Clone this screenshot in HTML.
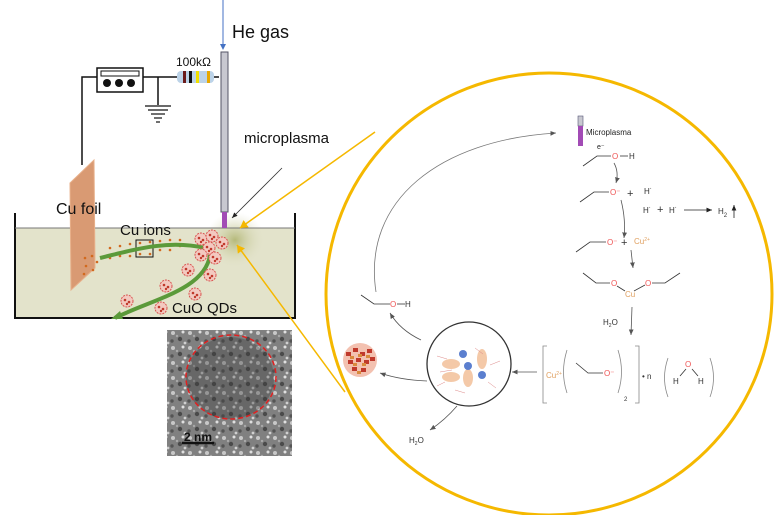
<!DOCTYPE html>
<html><head><meta charset="utf-8"><style>
html,body{margin:0;padding:0;background:#fff;}
svg{display:block;font-family:"Liberation Sans",sans-serif;}
</style></head><body>
<svg width="774" height="515" viewBox="0 0 774 515" xmlns="http://www.w3.org/2000/svg">
<defs>
<marker id="ar" markerWidth="8" markerHeight="8" refX="7" refY="4" orient="auto"><path d="M0,1 L7,4 L0,7 Z" fill="#555"/></marker>
<marker id="ab" markerWidth="8" markerHeight="8" refX="7" refY="4" orient="auto"><path d="M0,1 L7,4 L0,7 Z" fill="#222"/></marker>
<marker id="ay" markerWidth="6" markerHeight="6" refX="5" refY="3" orient="auto"><path d="M0,0 L5,3 L0,6 Z" fill="#f5b800"/></marker>
<radialGradient id="glow" cx="0.5" cy="0.5" r="0.5"><stop offset="0" stop-color="#b5b97a"/><stop offset="1" stop-color="#e3e3cb" stop-opacity="0"/></radialGradient>
<pattern id="noise" width="17" height="15" patternUnits="userSpaceOnUse"><rect width="17" height="15" fill="#808080"/><circle cx="3" cy="3" r="2" fill="#c8c8c8"/><circle cx="10" cy="9" r="2.2" fill="#4a4a4a"/><circle cx="13" cy="2" r="1.5" fill="#e0e0e0"/><circle cx="2" cy="11" r="1.7" fill="#555"/><circle cx="7" cy="6" r="1.2" fill="#a8a8a8"/><circle cx="15" cy="13" r="1.4" fill="#d0d0d0"/></pattern>
<g id="qd"><circle r="6" fill="#f3c9c0"/><circle r="6" fill="none" stroke="#d9534f" stroke-width="1" stroke-dasharray="2 1"/><circle cx="-2" cy="-1" r="1.3" fill="#c0392b"/><circle cx="2" cy="1" r="1.3" fill="#c0392b"/><circle cx="0" cy="3" r="1.2" fill="#c0392b"/></g>
</defs>

<line x1="223" y1="0" x2="223" y2="46" stroke="#4472c4" stroke-width="1"/>
<path d="M220,44 L223,50 L226,44 Z" fill="#4472c4"/>
<text x="232" y="38" font-size="18" fill="#111">He gas</text>

<polyline points="82,165 82,77 97,77" fill="none" stroke="#111" stroke-width="1.5"/>
<rect x="97" y="68" width="46" height="24" fill="#fff" stroke="#111" stroke-width="1.5"/>
<rect x="101" y="71" width="38" height="5" fill="#fff" stroke="#111" stroke-width="1"/>
<circle cx="107" cy="83" r="4" fill="#111"/><circle cx="119" cy="83" r="4" fill="#111"/><circle cx="131" cy="83" r="4" fill="#111"/>
<line x1="143" y1="77" x2="177" y2="77" stroke="#111" stroke-width="1.5"/>
<line x1="158" y1="77" x2="158" y2="105" stroke="#111" stroke-width="1.5"/>
<line x1="145" y1="106" x2="171" y2="106" stroke="#111" stroke-width="1.2"/>
<line x1="148" y1="110" x2="168" y2="110" stroke="#111" stroke-width="1.2"/>
<line x1="151" y1="114" x2="165" y2="114" stroke="#111" stroke-width="1.2"/>
<line x1="154" y1="118" x2="162" y2="118" stroke="#111" stroke-width="1.2"/>
<line x1="156" y1="122" x2="160" y2="122" stroke="#111" stroke-width="1.2"/>
<rect x="177" y="71" width="37" height="12" rx="4" fill="#bcd3e8"/>
<rect x="183" y="71" width="3" height="12" fill="#6b1b1b"/><rect x="189" y="71" width="3" height="12" fill="#111"/><rect x="196" y="71" width="3" height="12" fill="#f0e000"/><rect x="207" y="71" width="3" height="12" fill="#e8a800"/>
<line x1="214" y1="77" x2="219" y2="77" stroke="#111" stroke-width="1.5"/>
<text x="176" y="66" font-size="12" fill="#111">100kΩ</text>

<rect x="15" y="228" width="280" height="90" fill="#e3e3cb"/>
<ellipse cx="235" cy="240" rx="30" ry="28" fill="url(#glow)"/>
<polyline points="15,213 15,318 295,318 295,213" fill="none" stroke="#111" stroke-width="2"/>
<line x1="15" y1="228" x2="295" y2="228" stroke="#777" stroke-width="1"/>

<rect x="221" y="52" width="7" height="160" fill="#c8c8d0" stroke="#556" stroke-width="1"/>
<rect x="222" y="212" width="5" height="16" fill="#a24bb5"/>

<polygon points="70,183 94,160 95,268 71,290" fill="#d99a73" stroke="#e8b08a" stroke-width="1"/>
<text x="56" y="214" font-size="16" fill="#111">Cu foil</text>

<g fill="#d2691e">
<circle cx="85" cy="258" r="1.3"/><circle cx="92" cy="256" r="1.3"/><circle cx="97" cy="262" r="1.3"/><circle cx="86" cy="266" r="1.3"/><circle cx="93" cy="270" r="1.3"/><circle cx="84" cy="274" r="1.3"/>
<circle cx="110" cy="248" r="1.3"/><circle cx="120" cy="246" r="1.3"/><circle cx="130" cy="244" r="1.3"/><circle cx="140" cy="243" r="1.3"/><circle cx="150" cy="242" r="1.3"/><circle cx="160" cy="241" r="1.3"/><circle cx="170" cy="240" r="1.3"/><circle cx="180" cy="240" r="1.3"/>
<circle cx="110" cy="258" r="1.3"/><circle cx="120" cy="256" r="1.3"/><circle cx="130" cy="256" r="1.3"/><circle cx="140" cy="254" r="1.3"/><circle cx="150" cy="254" r="1.3"/><circle cx="160" cy="250" r="1.3"/><circle cx="170" cy="250" r="1.3"/><circle cx="180" cy="246" r="1.3"/>
</g>
<rect x="136" y="240" width="17" height="17" fill="none" stroke="#111" stroke-width="1"/>
<text x="120" y="235" font-size="15" fill="#111">Cu ions</text>
<path d="M100,258 C140,248 170,240 205,248" fill="none" stroke="#5b9a3a" stroke-width="4"/>
<path d="M210,255 C205,290 150,300 115,318" fill="none" stroke="#5b9a3a" stroke-width="4"/>
<path d="M120,311 L111,319 L123,319 Z" fill="#5b9a3a"/>

<use href="#qd" x="201" y="239"/><use href="#qd" x="212" y="236"/><use href="#qd" x="222" y="243"/><use href="#qd" x="209" y="248"/><use href="#qd" x="201" y="255"/><use href="#qd" x="215" y="258"/><use href="#qd" x="188" y="270"/><use href="#qd" x="210" y="275"/><use href="#qd" x="166" y="286"/><use href="#qd" x="195" y="294"/><use href="#qd" x="127" y="301"/><use href="#qd" x="161" y="308"/>
<text x="172" y="313" font-size="15" fill="#111">CuO QDs</text>

<text x="244" y="143" font-size="15" fill="#111">microplasma</text>
<line x1="282" y1="168" x2="232" y2="218" stroke="#333" stroke-width="0.8" marker-end="url(#ab)"/>

<rect x="167" y="330" width="125" height="126" fill="url(#noise)"/>
<ellipse cx="230" cy="378" rx="44" ry="41" fill="#3a3a3a" opacity="0.35"/>
<ellipse cx="231" cy="377" rx="45" ry="42" fill="none" stroke="#e02020" stroke-width="1.5" stroke-dasharray="5 3"/>
<text x="184" y="441" font-size="12" font-weight="bold" fill="#111">2 nm</text>
<line x1="182" y1="443" x2="214" y2="443" stroke="#111" stroke-width="2.5"/>

<line x1="375" y1="132" x2="240" y2="228" stroke="#f5b800" stroke-width="1.5" marker-end="url(#ay)"/>
<line x1="345" y1="392" x2="237" y2="245" stroke="#f5b800" stroke-width="1.5" marker-end="url(#ay)"/>
<ellipse cx="549" cy="294" rx="223" ry="221" fill="none" stroke="#f5b800" stroke-width="3"/>

<path d="M376,292 C362,200 440,140 556,133" fill="none" stroke="#777" stroke-width="0.8" marker-end="url(#ar)"/>
<rect x="578" y="116" width="5" height="10" fill="#c8c8d0" stroke="#557" stroke-width="0.6"/>
<rect x="578" y="126" width="5" height="20" fill="#a24bb5"/>
<text x="586" y="135" font-size="8" fill="#222">Microplasma</text>
<text x="597" y="149" font-size="7" fill="#222">e⁻</text>
<g font-size="8" fill="#333" stroke-width="0.8">
<polyline points="583,166 597,156 611,156" fill="none" stroke="#333"/><text x="612" y="159" fill="#e55">O</text><line x1="620" y1="156" x2="628" y2="156" stroke="#333"/><text x="629" y="159">H</text>
<path d="M614,163 Q619,172 616,183" fill="none" stroke="#555" marker-end="url(#ar)"/>
<polyline points="580,202 594,192 609,192" fill="none" stroke="#333"/><text x="610" y="195" fill="#e55">O⁻</text>
<text x="627" y="197" font-size="11">+</text><text x="644" y="194">H˙</text>
<text x="643" y="213">H˙</text><text x="657" y="213" font-size="11">+</text><text x="669" y="213">H˙</text>
<line x1="684" y1="210" x2="712" y2="210" stroke="#222" marker-end="url(#ab)"/>
<text x="718" y="214">H<tspan font-size="6" dy="3">2</tspan></text>
<line x1="734" y1="218" x2="734" y2="205" stroke="#222" marker-end="url(#ab)"/>
<path d="M621,200 Q626,220 624,238" fill="none" stroke="#555" marker-end="url(#ar)"/>
<polyline points="576,252 590,242 606,242" fill="none" stroke="#333"/><text x="607" y="245" fill="#e55">O⁻</text>
<text x="621" y="246" font-size="11">+</text><text x="634" y="244" fill="#e0a060">Cu<tspan font-size="5" dy="-3">2+</tspan></text>
<line x1="631" y1="250" x2="633" y2="268" stroke="#555" marker-end="url(#ar)"/>
<polyline points="583,273 596,283 610,283" fill="none" stroke="#333"/><text x="611" y="286" fill="#e55">O</text>
<line x1="617" y1="286" x2="625" y2="291" stroke="#333"/><text x="625" y="297" fill="#e0a060">Cu</text>
<line x1="634" y1="291" x2="645" y2="285" stroke="#333"/><text x="645" y="286" fill="#e55">O</text>
<polyline points="652,283 665,283 680,273" fill="none" stroke="#333"/>
<text x="603" y="325">H<tspan font-size="5" dy="2">2</tspan><tspan dy="-2">O</tspan></text>
<line x1="632" y1="307" x2="631" y2="335" stroke="#555" marker-end="url(#ar)"/>
<path d="M547,346 L543,346 L543,403 L547,403 M635,346 L639,346 L639,403 L635,403" fill="none" stroke="#888"/>
<text x="546" y="378" fill="#e0a060">Cu<tspan font-size="5" dy="-3">2+</tspan></text>
<path d="M567,350 Q560,372 567,393 M618,350 Q625,372 618,393" fill="none" stroke="#888"/>
<polyline points="576,363 588,373 603,373" fill="none" stroke="#333"/><text x="604" y="376" fill="#e55">O⁻</text>
<text x="624" y="401" font-size="6">2</text>
<text x="642" y="379">• n</text>
<path d="M668,358 Q661,378 668,397 M710,358 Q717,378 710,397" fill="none" stroke="#888"/>
<text x="685" y="367" fill="#e55">O</text><line x1="686" y1="369" x2="680" y2="376" stroke="#333"/><line x1="692" y1="369" x2="698" y2="376" stroke="#333"/>
<text x="673" y="384">H</text><text x="698" y="384">H</text>
<line x1="537" y1="372" x2="512" y2="372" stroke="#555" marker-end="url(#ar)"/>
<polyline points="361,295 374,304 390,304" fill="none" stroke="#333"/><text x="390" y="307" fill="#e55">O</text><line x1="397" y1="304" x2="405" y2="304" stroke="#333"/><text x="405" y="307">H</text>
<path d="M421,340 Q400,330 390,313" fill="none" stroke="#555" marker-end="url(#ar)"/>
<path d="M427,381 Q400,380 380,373" fill="none" stroke="#555" marker-end="url(#ar)"/>
<path d="M457,406 Q445,420 430,430" fill="none" stroke="#555" marker-end="url(#ar)"/>
<text x="409" y="443">H<tspan font-size="5" dy="2">2</tspan><tspan dy="-2">O</tspan></text>
</g>
<circle cx="469" cy="364" r="42" fill="#fff" stroke="#333" stroke-width="1.3"/>
<ellipse cx="451" cy="364" rx="9" ry="5" fill="#f4c9a8"/><ellipse cx="482" cy="359" rx="5" ry="10" fill="#f4c9a8"/><ellipse cx="451" cy="377" rx="9" ry="5" fill="#f4c9a8"/><ellipse cx="468" cy="378" rx="5" ry="9" fill="#f4c9a8"/>
<circle cx="463" cy="354" r="4" fill="#5b7fcf"/><circle cx="468" cy="366" r="4" fill="#5b7fcf"/><circle cx="482" cy="375" r="4" fill="#5b7fcf"/>
<g stroke="#d88" stroke-width="0.5" fill="none"><path d="M437,356 l10,3 M440,372 l12,-2 M475,348 l8,6 M490,365 l10,-4 M488,382 l8,6 M455,390 l10,3 M445,382 l-8,4"/></g>
<g transform="translate(360,360)">
<circle r="17" fill="#f3c1b0"/>
<g fill="#c0392b"><rect x="-14" y="-8" width="5" height="4"/><rect x="-7" y="-12" width="5" height="4"/><rect x="0" y="-8" width="5" height="4"/><rect x="7" y="-11" width="5" height="4"/><rect x="-12" y="0" width="5" height="4"/><rect x="-4" y="-2" width="5" height="4"/><rect x="4" y="0" width="5" height="4"/><rect x="10" y="-3" width="5" height="4"/><rect x="-8" y="7" width="5" height="4"/><rect x="1" y="8" width="5" height="4"/></g>
<g fill="#d98a3c"><rect x="-10" y="-4" width="4" height="3"/><rect x="-2" y="-6" width="4" height="3"/><rect x="6" y="-5" width="4" height="3"/><rect x="-7" y="3" width="4" height="3"/><rect x="2" y="3" width="4" height="3"/><rect x="-3" y="11" width="4" height="3"/></g>
</g>
</svg>
</body></html>
